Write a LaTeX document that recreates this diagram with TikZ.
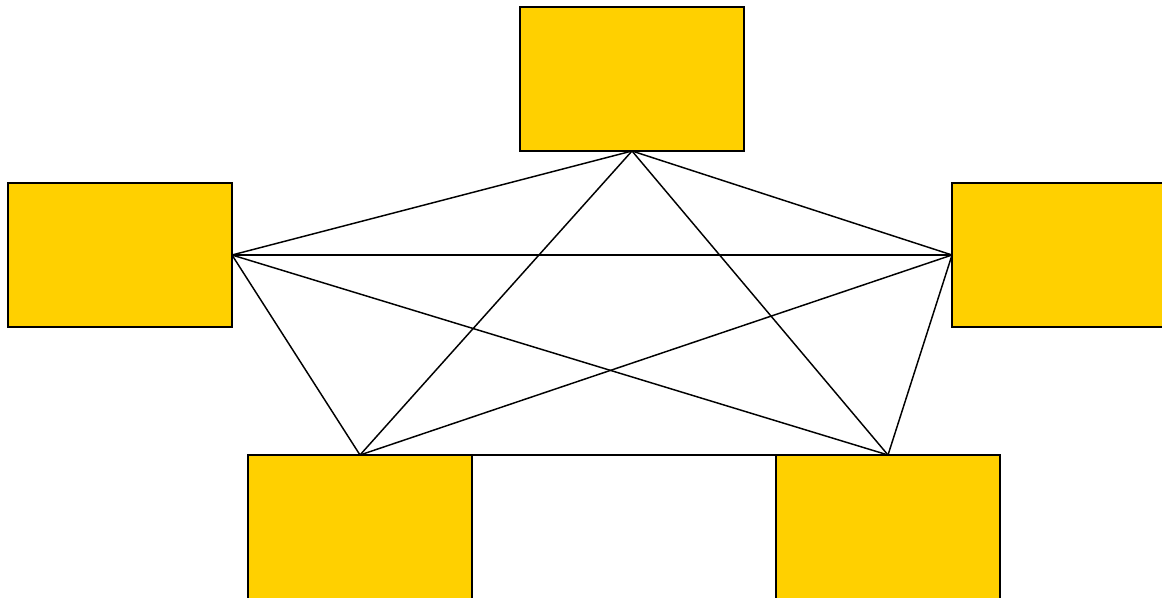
\documentclass[tikz,border=0pt]{standalone}
\begin{document}
\begin{tikzpicture}[x=0.75pt,y=-0.75pt,
  box/.style={draw=black,fill={rgb,255:red,255;green,208;blue,0},line width=1.1pt,
    minimum width=168pt,minimum height=108pt,inner sep=0pt,outer sep=0pt,rectangle},
  link/.style={draw=black,line width=1.1pt}]
\useasboundingbox (0,0) rectangle (1162,598);
\clip (0,0) rectangle (1162,598);
\node[box] (t) at (632,79) {};
\node[box] (l) at (120,255) {};
\node[box] (r) at (1064,255) {};
\node[box] (bl) at (360,527) {};
\node[box] (br) at (888,527) {};
\draw[link] (t.south) -- (l.east);
\draw[link] (t.south) -- (r.west);
\draw[link] (t.south) -- (bl.north);
\draw[link] (t.south) -- (br.north);
\draw[link] (l.east) -- (r.west);
\draw[link] (l.east) -- (bl.north);
\draw[link] (l.east) -- (br.north);
\draw[link] (r.west) -- (bl.north);
\draw[link] (r.west) -- (br.north);
\draw[link] (bl.north) -- (br.north);
\end{tikzpicture}
\end{document}
